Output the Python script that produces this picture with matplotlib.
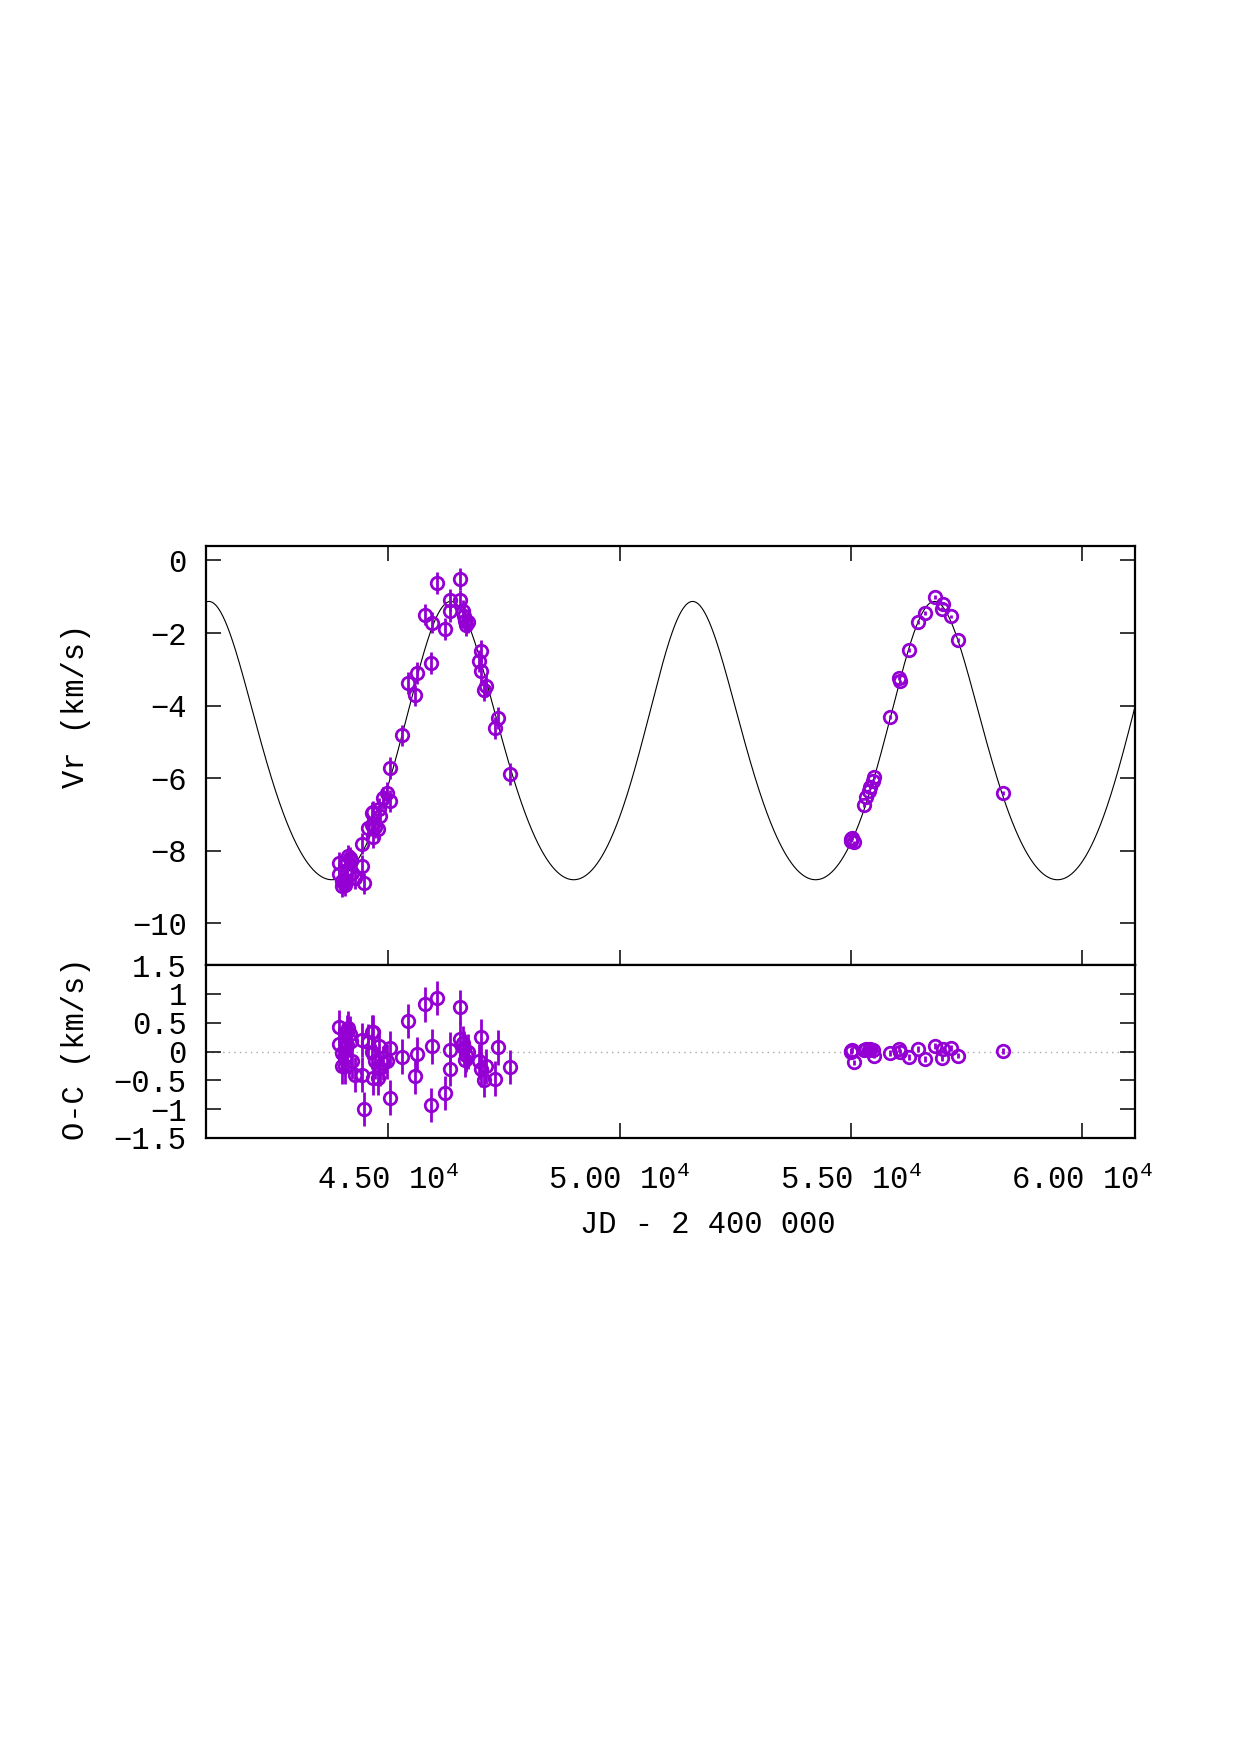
import numpy as np
import matplotlib
matplotlib.use('Agg')
import matplotlib.pyplot as plt

# orbit solution
period = 5228.0
t_peri = 46283.0
ecc = 0.125
omega_deg = -6.0
k_amp = 3.835
gamma = -5.44

# older measurements (large error bars)
jd_old = [43930, 43935, 43990, 43995, 44060, 44065, 44100, 44105, 44137, 44173,
          44187, 44209, 44281, 44425, 44430, 44475, 44568, 44641, 44645, 44677,
          44680, 44713, 44784, 44790, 44820, 44892, 44965, 45037, 45045, 45289,
          45433, 45577, 45627, 45793, 45930, 45938, 46045, 46225, 46333, 46335,
          46549, 46560, 46607, 46635, 46650, 46679, 46729, 46967, 46996, 47010,
          47068, 47111, 47313, 47364, 47630]
vr_old = [-8.33, -8.64, -8.83, -8.98, -8.80, -8.95, -8.30, -8.52, -8.14, -8.20,
          -8.28, -8.62, -8.75, -7.80, -8.41, -8.90, -7.37, -6.95, -7.28, -6.93,
          -7.62, -7.35, -7.40, -6.85, -7.05, -6.55, -6.40, -5.72, -6.62, -4.82,
          -3.38, -3.72, -3.09, -1.49, -2.83, -1.71, -0.61, -1.88, -1.08, -1.40,
          -0.52, -1.10, -1.38, -1.52, -1.67, -1.79, -1.70, -2.78, -2.50, -3.05,
          -3.58, -3.45, -4.61, -4.34, -5.88]
oc_old = [0.42, 0.13, -0.03, -0.26, -0.09, -0.26, 0.34, 0.11, 0.40, 0.31,
          0.19, -0.17, -0.40, 0.20, -0.40, -1.00, 0.17, 0.34, 0.00, 0.34,
          -0.46, -0.17, -0.46, 0.09, -0.29, -0.20, -0.17, 0.06, -0.80, -0.09,
          0.53, -0.43, -0.05, 0.82, -0.93, 0.09, 0.93, -0.72, 0.03, -0.30,
          0.77, 0.22, 0.14, 0.06, -0.14, -0.06, 0.00, -0.17, 0.26, -0.31,
          -0.49, -0.26, -0.47, 0.07, -0.27]
err_old = 0.30

# recent measurements (small error bars)
jd_new = [54994, 55005, 55020, 55066, 55288, 55331, 55400, 55417, 55470, 55489,
          55850, 56030, 56066, 56246, 56441, 56607, 56823, 56967, 57001, 57160,
          57325, 58298]
vr_new = [-7.67, -7.72, -7.65, -7.77, -6.73, -6.53, -6.34, -6.25, -6.07, -5.97,
          -4.32, -3.24, -3.33, -2.46, -1.70, -1.44, -1.01, -1.33, -1.19, -1.54,
          -2.19, -6.41]
oc_new = [0.01, 0.00, 0.03, -0.19, 0.03, 0.04, 0.03, 0.04, 0.02, -0.07,
          -0.03, 0.05, 0.00, -0.09, 0.05, -0.13, 0.10, -0.11, 0.05, 0.06,
          -0.07, 0.01]
err_new = 0.05

xlim = (41060, 61140)
vr_ticks = [0, -2, -4, -6, -8, -10]
oc_ticks = [1.5, 1, 0.5, 0, -0.5, -1, -1.5]
oc_tick_labels = ['1.5', '1', '0.5', '0', '\u22120.5', '\u22121', '\u22121.5']
jd_ticks = [45000, 50000, 55000, 60000]
jd_tick_labels = [r'4.50 10$^{4}$', r'5.00 10$^{4}$', r'5.50 10$^{4}$', r'6.00 10$^{4}$']


def rv_model(t):
    mean_anom = 2 * np.pi * (np.asarray(t, dtype=float) - t_peri) / period
    ecc_anom = mean_anom.copy()
    for _ in range(60):
        ecc_anom = ecc_anom - (ecc_anom - ecc * np.sin(ecc_anom) - mean_anom) / (1 - ecc * np.cos(ecc_anom))
    nu = 2 * np.arctan2(np.sqrt(1 + ecc) * np.sin(ecc_anom / 2), np.sqrt(1 - ecc) * np.cos(ecc_anom / 2))
    w = np.radians(omega_deg)
    return gamma + k_amp * (np.cos(nu + w) + ecc * np.cos(w))


font = 'Liberation Mono'
matplotlib.rcParams.update({'font.family': font, 'font.size': 22,
                            'mathtext.fontset': 'custom', 'mathtext.rm': font,
                            'mathtext.it': font, 'mathtext.bf': font})

purple = '#9400d3'
pt_style = dict(fmt='o', mfc='none', mec=purple, ecolor=purple, ms=9.0, mew=2.0,
                elinewidth=2.0, capsize=0, zorder=3)

fig = plt.figure(figsize=(12.4, 17.55), dpi=100)
ax1 = fig.add_axes([0.1661, 0.4501, 0.7492, 0.2388])
ax2 = fig.add_axes([0.1661, 0.3516, 0.7492, 0.0985])

t_curve = np.linspace(xlim[0], xlim[1], 3000)
ax1.plot(t_curve, rv_model(t_curve), color='black', lw=0.8, zorder=2)
ax1.errorbar(jd_old, vr_old, yerr=err_old, **pt_style)
ax1.errorbar(jd_new, vr_new, yerr=err_new, **pt_style)
ax1.set_xlim(xlim)
ax1.set_ylim(-11.15, 0.4)
ax1.set_yticks(vr_ticks)
ax1.set_yticklabels([str(v).replace('-', '\u2212') for v in vr_ticks])
ax1.set_xticks(jd_ticks)
ax1.tick_params(axis='x', which='both', direction='in', top=True, bottom=True,
                labelbottom=False, length=11, width=1.1)
ax1.tick_params(axis='y', direction='in', left=True, right=True, length=11, width=1.1, pad=14)

ax2.axhline(0, color='#a8a8a8', lw=1.0, ls=(0, (1, 3)), zorder=1)
ax2.errorbar(jd_old, oc_old, yerr=err_old, **pt_style)
ax2.errorbar(jd_new, oc_new, yerr=err_new, **pt_style)
ax2.set_xlim(xlim)
ax2.set_ylim(-1.5, 1.5)
ax2.set_yticks(oc_ticks)
ax2.set_yticklabels(oc_tick_labels)
ax2.set_xticks(jd_ticks)
ax2.set_xticklabels(jd_tick_labels)
ax2.tick_params(axis='x', direction='in', top=False, bottom=True, length=11, width=1.1, pad=20)
ax2.tick_params(axis='y', direction='in', left=True, right=True, length=11, width=1.1, pad=14)

for ax in (ax1, ax2):
    for sp in ax.spines.values():
        sp.set_linewidth(1.6)

fig.text(0.0613, 0.5977, 'Vr (km/s)', rotation=90, ha='center', va='center')
fig.text(0.0613, 0.4023, 'O-C (km/s)', rotation=90, ha='center', va='center')
fig.text(0.571, 0.302, 'JD - 2 400 000', ha='center', va='center')

fig.savefig('out.png', dpi=100, facecolor='white')
